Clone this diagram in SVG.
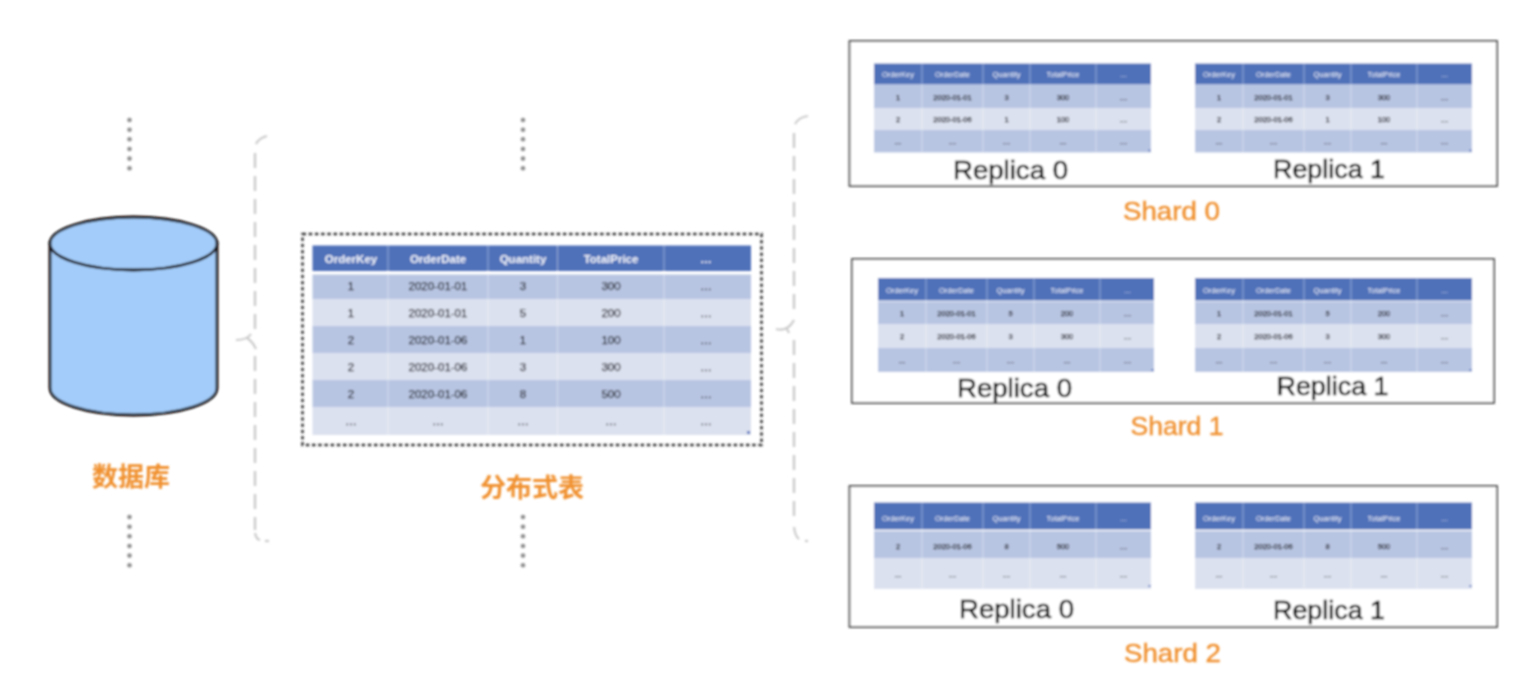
<svg xmlns="http://www.w3.org/2000/svg" width="1532" height="692" viewBox="0 0 1532 692">
<style>
text{font-family:"Liberation Sans","Noto Sans CJK SC",sans-serif;text-anchor:middle}
.h{fill:#4f71b9}.d{fill:#b8c5e2}.l{fill:#dce1ef}.c{fill:#5b78c0}
.s{stroke:#fff;stroke-width:1;opacity:.4}
.th{font-size:11.500px;font-weight:700;fill:#f4f6fc}
.td{font-size:11.500px;fill:#23262f;stroke:#23262f;stroke-width:.25}
.sh{font-size:7.500px;fill:#f4f6fc}
.sd{font-size:7.500px;fill:#23262f;stroke:#23262f;stroke-width:.25}
.r{font-size:25.500px;fill:#000;stroke:#000;stroke-width:.5}
.o{font-size:25.500px;fill:#f0902f;stroke:#f0902f;stroke-width:.4}
.zh{font-size:26px;fill:#f0902f;font-family:"Noto Sans CJK SC",sans-serif;font-weight:700}
.f{fill:#fff;stroke:#444;stroke-width:1.800}
.dot{fill:#8e8e8e}
.br{fill:none;stroke:#cbcbcb;stroke-width:2.400;stroke-dasharray:15 8}
.bt{fill:none;stroke:#cbcbcb;stroke-width:2.200}
</style>
<defs>
<filter id="b" x="-2%" y="-2%" width="104%" height="104%"><feGaussianBlur stdDeviation="0.8"/></filter>
</defs>
<rect width="1532" height="692" fill="#fff"/>
<g filter="url(#b)">
<g id="connectors">
<path class="br" d="M255 153V337"/><path class="bt" d="M256 144Q259 138 267 136"/><path class="bt" d="M236 340Q247 340 251 334M247 338Q253 342 256 349"/><path class="br" d="M255 356V530"/><path class="bt" d="M255 533Q256 539 260 540"/><path class="bt" d="M265 541H269"/>
<path class="br" d="M794 133V312"/><path class="bt" d="M795 124Q799 117 808 116"/><path class="bt" d="M776 329Q788 332 794 320M786 327L789 333"/><path class="br" d="M794 340V520"/><path class="bt" d="M794 527Q795 536 799 539"/><path class="bt" d="M805 541H808"/>
</g>
<g id="dots-left-top"><circle class="dot" cx="129.500" cy="120" r="2.300"/><circle class="dot" cx="129.500" cy="129.700" r="2.300"/><circle class="dot" cx="129.500" cy="139.300" r="2.300"/><circle class="dot" cx="129.500" cy="149" r="2.300"/><circle class="dot" cx="129.500" cy="158.600" r="2.300"/><circle class="dot" cx="129.500" cy="168.300" r="2.300"/></g>
<g id="dots-left-bottom"><circle class="dot" cx="129.500" cy="517" r="2.300"/><circle class="dot" cx="129.500" cy="526.700" r="2.300"/><circle class="dot" cx="129.500" cy="536.300" r="2.300"/><circle class="dot" cx="129.500" cy="546" r="2.300"/><circle class="dot" cx="129.500" cy="555.600" r="2.300"/><circle class="dot" cx="129.500" cy="565.300" r="2.300"/></g>
<g id="dots-mid-top"><circle class="dot" cx="523" cy="120" r="2.300"/><circle class="dot" cx="523" cy="129.700" r="2.300"/><circle class="dot" cx="523" cy="139.300" r="2.300"/><circle class="dot" cx="523" cy="149" r="2.300"/><circle class="dot" cx="523" cy="158.600" r="2.300"/><circle class="dot" cx="523" cy="168.300" r="2.300"/></g>
<g id="dots-mid-bottom"><circle class="dot" cx="523" cy="517" r="2.300"/><circle class="dot" cx="523" cy="526.700" r="2.300"/><circle class="dot" cx="523" cy="536.300" r="2.300"/><circle class="dot" cx="523" cy="546" r="2.300"/><circle class="dot" cx="523" cy="555.600" r="2.300"/><circle class="dot" cx="523" cy="565.300" r="2.300"/></g>

<g id="database">
<path d="M50 243V388C50 403 87 415 133.500 415S217 403 217 388V243Z" fill="#a3ccfa" stroke="#120e0e" stroke-width="2.800"/>
<ellipse cx="133.500" cy="243.500" rx="83.500" ry="26.500" fill="#a3ccfa" stroke="#120e0e" stroke-width="2.800"/>
<text class="zh" x="131" y="486">数据库</text>
</g>

<g id="distributed-table">
<rect x="302.500" y="234" width="459" height="211" fill="none" stroke="#333" stroke-width="2.400" stroke-dasharray="3.500 2.700"/>
<rect class="h" x="312.500" y="245.500" width="438.500" height="25.500"/>
<rect class="d" x="312.500" y="274.500" width="438.500" height="24.500"/>
<rect class="l" x="312.500" y="299" width="438.500" height="27"/>
<rect class="d" x="312.500" y="326" width="438.500" height="27"/>
<rect class="l" x="312.500" y="353" width="438.500" height="27"/>
<rect class="d" x="312.500" y="380" width="438.500" height="27"/>
<rect class="l" x="312.500" y="407" width="438.500" height="28"/>
<path class="s" d="M388 245V435M488 245V435M557.500 245V435M664 245V435"/>
<rect class="c" x="747" y="431" width="3" height="3"/>
<text class="th" x="351" y="263">OrderKey</text><text class="th" x="438" y="263">OrderDate</text><text class="th" x="523" y="263">Quantity</text><text class="th" x="611" y="263">TotalPrice</text><text class="th" x="706" y="263">…</text>
<text class="td" x="351" y="290">1</text><text class="td" x="438" y="290">2020-01-01</text><text class="td" x="523" y="290">3</text><text class="td" x="611" y="290">300</text><text class="td" x="706" y="290">…</text>
<text class="td" x="351" y="317">1</text><text class="td" x="438" y="317">2020-01-01</text><text class="td" x="523" y="317">5</text><text class="td" x="611" y="317">200</text><text class="td" x="706" y="317">…</text>
<text class="td" x="351" y="344">2</text><text class="td" x="438" y="344">2020-01-06</text><text class="td" x="523" y="344">1</text><text class="td" x="611" y="344">100</text><text class="td" x="706" y="344">…</text>
<text class="td" x="351" y="371">2</text><text class="td" x="438" y="371">2020-01-06</text><text class="td" x="523" y="371">3</text><text class="td" x="611" y="371">300</text><text class="td" x="706" y="371">…</text>
<text class="td" x="351" y="398">2</text><text class="td" x="438" y="398">2020-01-06</text><text class="td" x="523" y="398">8</text><text class="td" x="611" y="398">500</text><text class="td" x="706" y="398">…</text>
<text class="td" x="351" y="425">…</text><text class="td" x="438" y="425">…</text><text class="td" x="523" y="425">…</text><text class="td" x="611" y="425">…</text><text class="td" x="706" y="425">…</text>
<text class="zh" x="532" y="497">分布式表</text>
</g>

<g id="shard-0">
<rect class="f" x="849.500" y="41" width="647.500" height="145"/>
<g id="s0r0">
<rect class="h" x="874" y="63.500" width="277" height="21"/><rect class="d" x="874" y="85" width="277" height="23"/><rect class="l" x="874" y="108" width="277" height="22"/><rect class="d" x="874" y="130" width="277" height="22.500"/>
<path class="s" d="M922 63V152M983 63V152M1030 63V152M1096 63V152"/><rect class="c" x="1148.500" y="149.500" width="2" height="2"/>
<text class="sh" x="898" y="77">OrderKey</text><text class="sh" x="952.500" y="77">OrderDate</text><text class="sh" x="1006.500" y="77">Quantity</text><text class="sh" x="1063" y="77">TotalPrice</text><text class="sh" x="1123.500" y="77">…</text>
<text class="sd" x="898" y="99.500">1</text><text class="sd" x="952.500" y="99.500">2020-01-01</text><text class="sd" x="1006.500" y="99.500">3</text><text class="sd" x="1063" y="99.500">300</text><text class="sd" x="1123.500" y="99.500">…</text>
<text class="sd" x="898" y="122">2</text><text class="sd" x="952.500" y="122">2020-01-06</text><text class="sd" x="1006.500" y="122">1</text><text class="sd" x="1063" y="122">100</text><text class="sd" x="1123.500" y="122">…</text>
<text class="sd" x="898" y="144">…</text><text class="sd" x="952.500" y="144">…</text><text class="sd" x="1006.500" y="144">…</text><text class="sd" x="1063" y="144">…</text><text class="sd" x="1123.500" y="144">…</text>
<text class="r" x="1010.500" y="179" textLength="115" lengthAdjust="spacingAndGlyphs">Replica 0</text>
</g>
<g id="s0r1">
<rect class="h" x="1195" y="63.500" width="277" height="21"/><rect class="d" x="1195" y="85" width="277" height="23"/><rect class="l" x="1195" y="108" width="277" height="22"/><rect class="d" x="1195" y="130" width="277" height="22.500"/>
<path class="s" d="M1243 63V152M1304 63V152M1351 63V152M1417 63V152"/><rect class="c" x="1469.500" y="149.500" width="2" height="2"/>
<text class="sh" x="1219" y="77">OrderKey</text><text class="sh" x="1273.500" y="77">OrderDate</text><text class="sh" x="1327.500" y="77">Quantity</text><text class="sh" x="1384" y="77">TotalPrice</text><text class="sh" x="1444.500" y="77">…</text>
<text class="sd" x="1219" y="99.500">1</text><text class="sd" x="1273.500" y="99.500">2020-01-01</text><text class="sd" x="1327.500" y="99.500">3</text><text class="sd" x="1384" y="99.500">300</text><text class="sd" x="1444.500" y="99.500">…</text>
<text class="sd" x="1219" y="122">2</text><text class="sd" x="1273.500" y="122">2020-01-06</text><text class="sd" x="1327.500" y="122">1</text><text class="sd" x="1384" y="122">100</text><text class="sd" x="1444.500" y="122">…</text>
<text class="sd" x="1219" y="144">…</text><text class="sd" x="1273.500" y="144">…</text><text class="sd" x="1327.500" y="144">…</text><text class="sd" x="1384" y="144">…</text><text class="sd" x="1444.500" y="144">…</text>
<text class="r" x="1329" y="178" textLength="112" lengthAdjust="spacingAndGlyphs">Replica 1</text>
</g>
<text class="o" x="1171.500" y="220" textLength="97" lengthAdjust="spacingAndGlyphs">Shard 0</text>
</g>

<g id="shard-1">
<rect class="f" x="852" y="259" width="642" height="144"/>
<g id="s1r0">
<rect class="h" x="878" y="278" width="276" height="22.500"/><rect class="d" x="878" y="301.500" width="276" height="22.500"/><rect class="l" x="878" y="324" width="276" height="24"/><rect class="d" x="878" y="348" width="276" height="24"/>
<path class="s" d="M926 278V372M987 278V372M1034 278V372M1100 278V372"/><rect class="c" x="1151.500" y="369" width="2" height="2"/>
<text class="sh" x="902" y="292.500">OrderKey</text><text class="sh" x="956.500" y="292.500">OrderDate</text><text class="sh" x="1010.500" y="292.500">Quantity</text><text class="sh" x="1067" y="292.500">TotalPrice</text><text class="sh" x="1127.500" y="292.500">…</text>
<text class="sd" x="902" y="315.500">1</text><text class="sd" x="956.500" y="315.500">2020-01-01</text><text class="sd" x="1010.500" y="315.500">5</text><text class="sd" x="1067" y="315.500">200</text><text class="sd" x="1127.500" y="315.500">…</text>
<text class="sd" x="902" y="339">2</text><text class="sd" x="956.500" y="339">2020-01-06</text><text class="sd" x="1010.500" y="339">3</text><text class="sd" x="1067" y="339">300</text><text class="sd" x="1127.500" y="339">…</text>
<text class="sd" x="902" y="363">…</text><text class="sd" x="956.500" y="363">…</text><text class="sd" x="1010.500" y="363">…</text><text class="sd" x="1067" y="363">…</text><text class="sd" x="1127.500" y="363">…</text>
<text class="r" x="1014.500" y="397" textLength="115" lengthAdjust="spacingAndGlyphs">Replica 0</text>
</g>
<g id="s1r1">
<rect class="h" x="1195" y="278" width="277" height="22.500"/><rect class="d" x="1195" y="301.500" width="277" height="22.500"/><rect class="l" x="1195" y="324" width="277" height="24"/><rect class="d" x="1195" y="348" width="277" height="24"/>
<path class="s" d="M1243 278V372M1304 278V372M1351 278V372M1417 278V372"/><rect class="c" x="1469.500" y="369" width="2" height="2"/>
<text class="sh" x="1219" y="292.500">OrderKey</text><text class="sh" x="1273.500" y="292.500">OrderDate</text><text class="sh" x="1327.500" y="292.500">Quantity</text><text class="sh" x="1384" y="292.500">TotalPrice</text><text class="sh" x="1444.500" y="292.500">…</text>
<text class="sd" x="1219" y="315.500">1</text><text class="sd" x="1273.500" y="315.500">2020-01-01</text><text class="sd" x="1327.500" y="315.500">5</text><text class="sd" x="1384" y="315.500">200</text><text class="sd" x="1444.500" y="315.500">…</text>
<text class="sd" x="1219" y="339">2</text><text class="sd" x="1273.500" y="339">2020-01-06</text><text class="sd" x="1327.500" y="339">3</text><text class="sd" x="1384" y="339">300</text><text class="sd" x="1444.500" y="339">…</text>
<text class="sd" x="1219" y="363">…</text><text class="sd" x="1273.500" y="363">…</text><text class="sd" x="1327.500" y="363">…</text><text class="sd" x="1384" y="363">…</text><text class="sd" x="1444.500" y="363">…</text>
<text class="r" x="1332.500" y="395" textLength="112" lengthAdjust="spacingAndGlyphs">Replica 1</text>
</g>
<text class="o" x="1177" y="435" textLength="93" lengthAdjust="spacingAndGlyphs">Shard 1</text>
</g>

<g id="shard-2">
<rect class="f" x="849.500" y="486" width="647.500" height="141"/>
<g id="s2r0">
<rect class="h" x="874" y="502.500" width="277" height="27"/><rect class="d" x="874" y="531" width="277" height="27"/><rect class="l" x="874" y="558" width="277" height="31"/>
<path class="s" d="M922 502V589M983 502V589M1030 502V589M1096 502V589"/><rect class="c" x="1148.500" y="585" width="2" height="2"/>
<text class="sh" x="898" y="521">OrderKey</text><text class="sh" x="952.500" y="521">OrderDate</text><text class="sh" x="1006.500" y="521">Quantity</text><text class="sh" x="1063" y="521">TotalPrice</text><text class="sh" x="1123.500" y="521">…</text>
<text class="sd" x="898" y="549">2</text><text class="sd" x="952.500" y="549">2020-01-06</text><text class="sd" x="1006.500" y="549">8</text><text class="sd" x="1063" y="549">500</text><text class="sd" x="1123.500" y="549">…</text>
<text class="sd" x="898" y="577">…</text><text class="sd" x="952.500" y="577">…</text><text class="sd" x="1006.500" y="577">…</text><text class="sd" x="1063" y="577">…</text><text class="sd" x="1123.500" y="577">…</text>
<text class="r" x="1016.500" y="618" textLength="115" lengthAdjust="spacingAndGlyphs">Replica 0</text>
</g>
<g id="s2r1">
<rect class="h" x="1195" y="502.500" width="277" height="27"/><rect class="d" x="1195" y="531" width="277" height="27"/><rect class="l" x="1195" y="558" width="277" height="31"/>
<path class="s" d="M1243 502V589M1304 502V589M1351 502V589M1417 502V589"/><rect class="c" x="1469.500" y="585" width="2" height="2"/>
<text class="sh" x="1219" y="521">OrderKey</text><text class="sh" x="1273.500" y="521">OrderDate</text><text class="sh" x="1327.500" y="521">Quantity</text><text class="sh" x="1384" y="521">TotalPrice</text><text class="sh" x="1444.500" y="521">…</text>
<text class="sd" x="1219" y="549">2</text><text class="sd" x="1273.500" y="549">2020-01-06</text><text class="sd" x="1327.500" y="549">8</text><text class="sd" x="1384" y="549">500</text><text class="sd" x="1444.500" y="549">…</text>
<text class="sd" x="1219" y="577">…</text><text class="sd" x="1273.500" y="577">…</text><text class="sd" x="1327.500" y="577">…</text><text class="sd" x="1384" y="577">…</text><text class="sd" x="1444.500" y="577">…</text>
<text class="r" x="1329" y="619" textLength="112" lengthAdjust="spacingAndGlyphs">Replica 1</text>
</g>
<text class="o" x="1172.500" y="662" textLength="97" lengthAdjust="spacingAndGlyphs">Shard 2</text>
</g>
</g>
</svg>
